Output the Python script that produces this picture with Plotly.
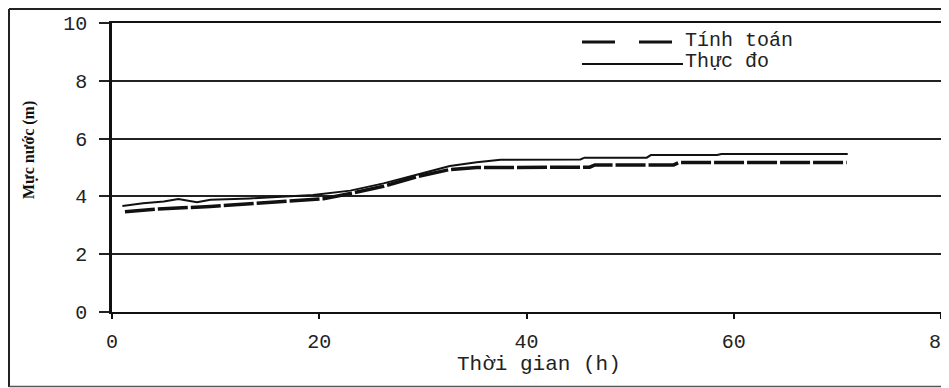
import plotly.graph_objects as go

# --- Data ---
# Thực đo (measured, solid line)
hours_measured = [1, 3, 5, 6.4, 8.2, 9.5, 13.3, 17.2, 19.4, 23, 26.2, 29.4, 32.6, 35.2, 37.5, 45.2, 45.6, 51.6, 52, 58.4, 58.8, 71]
level_measured = [3.67, 3.76, 3.82, 3.91, 3.80, 3.88, 3.93, 4.01, 4.05, 4.20, 4.45, 4.75, 5.05, 5.18, 5.27, 5.28, 5.34, 5.34, 5.43, 5.43, 5.47, 5.47]

# Tính toán (computed, dashed line)
hours_computed = [1.25, 4.2, 9.5, 14.6, 16.9, 19.9, 20.4, 23, 26.2, 29.4, 32.6, 35.2, 39.4, 46.1, 46.6, 54.2, 54.7, 70.9]
level_computed = [3.47, 3.56, 3.65, 3.77, 3.83, 3.89, 3.92, 4.10, 4.35, 4.68, 4.93, 5.00, 5.01, 5.01, 5.09, 5.09, 5.17, 5.17]

x_ticks = [0, 20, 40, 60, 80]
y_ticks = [0, 2, 4, 6, 8, 10]

series_names = ["Tính toán", "Thực đo"]
x_title = "Thời gian (h)"
y_title = "Mực nước (m)"

# --- Layout helpers ---
# The page body adds an 8px offset; plot area in window pixels: x 112..941, y 23..312
W, H = 949, 388
OFF = 8
PL, PR, PT, PB = 112, 941, 23, 312
PW, PH = PR - PL, PB - PT


def px(xw):
    return (xw - PL) / PW


def py(yw):
    return (PB - yw) / PH


FONT = "Liberation Mono"
INK = "#111111"

fig = go.Figure()
fig.add_trace(go.Scatter(
    x=hours_computed, y=level_computed, mode="lines", name=series_names[0],
    line=dict(color=INK, width=3.5, dash="30px,3px"), showlegend=False,
))
fig.add_trace(go.Scatter(
    x=hours_measured, y=level_measured, mode="lines", name=series_names[1],
    line=dict(color=INK, width=2), showlegend=False,
))

fig.update_layout(
    width=W, height=H, autosize=False,
    margin=dict(l=PL - OFF, r=W - (PR - OFF), t=PT - OFF, b=H - (PB - OFF), autoexpand=False),
    paper_bgcolor="white", plot_bgcolor="white",
    font=dict(family=FONT, size=20, color="#222"),
    xaxis=dict(
        range=[0, 80], tickvals=x_ticks, ticktext=[str(v) for v in x_ticks],
        showgrid=False, zeroline=False,
        showline=True, linecolor=INK, linewidth=2, mirror=True,
        ticks="outside", ticklen=5, tickwidth=2, tickcolor=INK,
        ticklabelstandoff=5, ticklabeloverflow="allow",
        tickfont=dict(family=FONT, size=20, color="#222"),
    ),
    yaxis=dict(
        range=[0, 10], tickvals=y_ticks, ticktext=[str(v) for v in y_ticks],
        showgrid=True, gridcolor="#222", gridwidth=1.5, zeroline=False,
        showline=True, linecolor=INK, linewidth=2.5, mirror=True,
        ticks="outside", ticklen=10, tickwidth=1.5, tickcolor="#222",
        ticklabelstandoff=8,
        tickfont=dict(family=FONT, size=20, color="#222"),
    ),
)

shapes = []
# outer frame of the figure
shapes.append(dict(type="line", xref="paper", yref="paper", x0=px(9), x1=px(9), y0=py(9), y1=py(387),
                   line=dict(color="#222", width=2)))
shapes.append(dict(type="line", xref="paper", yref="paper", x0=px(9), x1=px(960), y0=py(9), y1=py(9),
                   line=dict(color="#222", width=2)))
shapes.append(dict(type="line", xref="paper", yref="paper", x0=px(9), x1=px(960), y0=py(386.5), y1=py(386.5),
                   line=dict(color="#555", width=1.5)))
# legend symbols
shapes.append(dict(type="line", xref="paper", yref="paper", x0=px(582), x1=px(672), y0=py(42), y1=py(42),
                   line=dict(color=INK, width=3, dash="33px,24px")))
shapes.append(dict(type="line", xref="paper", yref="paper", x0=px(582), x1=px(683), y0=py(64), y1=py(64),
                   line=dict(color=INK, width=2)))
fig.update_layout(shapes=shapes)

annotations = [
    dict(text=series_names[0], xref="paper", yref="paper", x=px(683), y=py(40),
         xanchor="left", yanchor="middle", showarrow=False,
         font=dict(family=FONT, size=20, color="#222")),
    dict(text=series_names[1], xref="paper", yref="paper", x=px(683), y=py(62),
         xanchor="left", yanchor="middle", showarrow=False,
         font=dict(family=FONT, size=20, color="#222")),
    dict(text=x_title, xref="paper", yref="paper", x=px(539), y=py(364),
         xanchor="center", yanchor="middle", showarrow=False,
         font=dict(family=FONT, size=21, color="#222")),
    dict(text=y_title, xref="paper", yref="paper", x=px(29), y=py(150),
         xanchor="center", yanchor="middle", showarrow=False, textangle=-90,
         font=dict(family="Liberation Serif", size=16, color="#111", weight="bold")),
]
fig.update_layout(annotations=annotations)

fig.write_html("out.html")
